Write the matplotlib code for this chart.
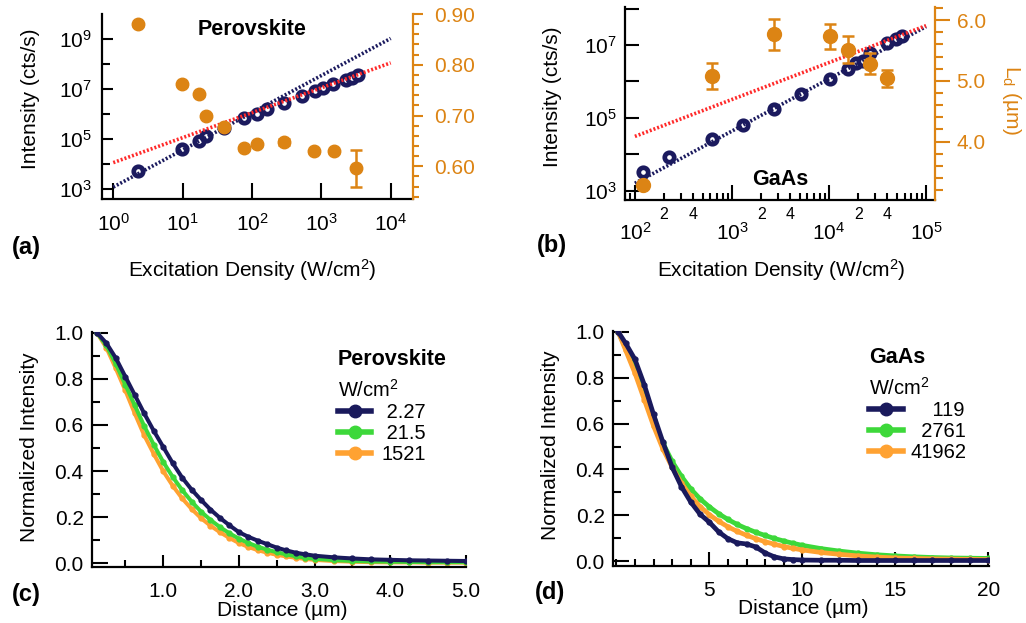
import numpy as np
import matplotlib
matplotlib.use("Agg")
import matplotlib.pyplot as plt
from matplotlib.lines import Line2D
from matplotlib.ticker import (FixedLocator, NullLocator, MultipleLocator, LogLocator,
                               FuncFormatter, FormatStrFormatter, NullFormatter)

plt.rcParams['font.family'] = ['Liberation Sans', 'DejaVu Sans']
plt.rcParams['mathtext.fontset'] = 'custom'
plt.rcParams['mathtext.rm'] = 'Liberation Sans'
plt.rcParams['mathtext.bf'] = 'Liberation Sans:bold'
plt.rcParams['mathtext.default'] = 'regular'

NAVY = '#1b1a5e'
ORANGE = '#dc8414'
RED = '#ff2a2a'
C_NAVY = '#1a1a5c'
C_GREEN = '#3dd83a'
C_ORANGE = '#ffa232'

# (a) perovskite: PL intensity and L_d vs excitation density (W/cm^2)
pero_power = [2.27, 9.8, 17, 21.5, 40, 77, 118, 163, 285, 525, 810, 1050, 1480, 2300, 2800, 3400]
pero_intensity = [5.2e3, 3.7e4, 7.8e4, 1.23e5, 2.6e5, 6.5e5, 1.0e6, 1.5e6, 2.6e6, 5.0e6,
                  7.9e6, 1.05e7, 1.6e7, 2.3e7, 2.8e7, 3.5e7]
pero_ld_power = [2.27, 9.8, 17, 21.5, 40, 77, 118, 285, 780, 1521, 3200]
pero_ld = [0.880, 0.762, 0.742, 0.700, 0.677, 0.636, 0.643, 0.647, 0.630, 0.630, 0.596]
pero_ld_err = [0.003, 0.003, 0.003, 0.003, 0.003, 0.003, 0.003, 0.006, 0.003, 0.003, 0.036]
pero_fit_x = [1, 1e4]
pero_fit_navy = [1.15e3, 1.05e9]
pero_fit_red = [1.1e4, 1.1e8]

# (b) GaAs
gaas_power = [120, 223, 624, 1290, 2700, 5200, 10200, 15600, 19000, 22600, 26700, 39600, 49000, 57000]
gaas_intensity = [3.2e3, 8.3e3, 2.6e4, 6.5e4, 1.8e5, 4.5e5, 1.17e6, 2.2e6, 3.2e6, 3.7e6,
                  6.0e6, 1.15e7, 1.5e7, 1.8e7]
gaas_ld_power = [120, 624, 2700, 10200, 15600, 26700, 39600]
gaas_ld = [3.29, 5.08, 5.77, 5.73, 5.51, 5.28, 5.04]
gaas_ld_err = [0.0, 0.21, 0.255, 0.21, 0.22, 0.17, 0.14]
gaas_fit_x = [1e2, 1e5]
gaas_fit_navy = [1.6e3, 3.2e7]
gaas_fit_red = [3.1e4, 3.4e7]

# (c) perovskite normalized PL profiles
pero_dist = [0.125, 0.25, 0.375, 0.5, 0.625, 0.75, 0.875, 1.0, 1.125, 1.25, 1.375, 1.5,
             1.625, 1.75, 1.875, 2.0, 2.125, 2.25, 2.375, 2.5, 2.625, 2.75, 2.875, 3.0,
             3.25, 3.5, 3.75, 4.0, 4.25, 4.5, 4.75, 5.0]
pero_prof_227 = [1.000, 0.955, 0.890, 0.810, 0.730, 0.650, 0.575, 0.505, 0.435, 0.372, 0.320, 0.275,
                 0.233, 0.197, 0.165, 0.135, 0.115, 0.098, 0.083, 0.068, 0.056, 0.046, 0.039, 0.033,
                 0.026, 0.021, 0.017, 0.015, 0.013, 0.012, 0.011, 0.010]
pero_prof_215 = [1.000, 0.945, 0.865, 0.775, 0.685, 0.595, 0.515, 0.440, 0.375, 0.318, 0.268, 0.224,
                 0.188, 0.157, 0.130, 0.107, 0.088, 0.072, 0.059, 0.048, 0.039, 0.031, 0.025, 0.020,
                 0.014, 0.010, 0.008, 0.007, 0.006, 0.005, 0.005, 0.005]
pero_prof_1521 = [1.000, 0.935, 0.845, 0.750, 0.650, 0.555, 0.475, 0.400, 0.337, 0.282, 0.236, 0.196,
                  0.163, 0.135, 0.110, 0.088, 0.071, 0.057, 0.046, 0.037, 0.030, 0.024, 0.019, 0.015,
                  0.010, 0.007, 0.005, 0.004, 0.004, 0.003, 0.003, 0.003]
pero_labels = ['\u20082.27', '\u200821.5', '1521']

# (d) GaAs normalized PL profiles
gaas_dist = [0.1, 0.5, 1.0, 1.5, 2.0, 2.5, 3.0, 3.5, 4.0, 4.5, 5.0, 5.5, 6.0, 6.5, 7.0, 7.5,
             8.0, 8.5, 9.0, 9.5, 10, 11, 12, 13, 14, 15, 16, 17, 18, 19, 20]
gaas_prof_119 = [1.0, 0.95, 0.88, 0.77, 0.64, 0.52, 0.41, 0.325, 0.258, 0.205, 0.170, 0.128, 0.098,
                 0.080, 0.075, 0.062, 0.036, 0.019, 0.010, 0.007, 0.005, 0.004, 0.004, 0.003, 0.003,
                 0.003, 0.003, 0.003, 0.003, 0.003, 0.003]
gaas_prof_2761 = [1.0, 0.93, 0.84, 0.73, 0.615, 0.515, 0.435, 0.37, 0.315, 0.272, 0.237, 0.207, 0.182,
                  0.160, 0.142, 0.126, 0.112, 0.099, 0.088, 0.078, 0.069, 0.055, 0.044, 0.035, 0.028,
                  0.023, 0.019, 0.016, 0.014, 0.013, 0.012]
gaas_prof_41962 = [1.0, 0.92, 0.82, 0.705, 0.59, 0.49, 0.41, 0.34, 0.283, 0.238, 0.203, 0.174, 0.150,
                   0.130, 0.113, 0.098, 0.085, 0.074, 0.064, 0.056, 0.049, 0.038, 0.030, 0.023, 0.018,
                   0.014, 0.012, 0.010, 0.009, 0.008, 0.007]
gaas_labels = ['\u2007\u2007119', '\u20072761', '41962']

W, H = 1026, 623
TICK = 15
LABEL = 15
DOTS = (0, (0.55, 0.55))

fig = plt.figure(figsize=(W / 100, H / 100), dpi=100)


def rect(l, t, r, b):
    return [l / W, 1 - b / H, (r - l) / W, (b - t) / H]


def put(x, y, s, **kw):
    return fig.text(x / W, 1 - y / H, s, **kw)


def pow10(v, pos):
    return r'$\mathdefault{10^{%d}}$' % int(round(np.log10(v)))


def mantissa(v, pos):
    m = int(round(v / 10 ** np.floor(np.log10(v) + 1e-9)))
    return str(m) if m in (2, 4) else ''


def host_style(ax):
    for s in ('top', 'right'):
        ax.spines[s].set_visible(False)
    for s in ('left', 'bottom'):
        ax.spines[s].set_linewidth(1.6)
    ax.tick_params(which='both', direction='in', width=1.5, labelsize=TICK, colors='black')


def twin_style(tw):
    for s in ('top', 'left', 'bottom'):
        tw.spines[s].set_visible(False)
    tw.spines['right'].set_color(ORANGE)
    tw.spines['right'].set_linewidth(1.6)
    tw.tick_params(axis='y', which='both', direction='out', width=1.5, colors=ORANGE,
                   labelsize=TICK)


# ---------- (a)
ax = fig.add_axes(rect(101.7, 14, 413.3, 199.3))
host_style(ax)
ax.plot(pero_power, pero_intensity, 'o', ms=6.8, mfc='white', mec=NAVY, mew=3.4, zorder=2)
ax.plot(pero_fit_x, pero_fit_navy, color=NAVY, lw=2.6, ls=DOTS, zorder=3)
ax.plot(pero_fit_x, pero_fit_red, color=RED, lw=2.6, ls=DOTS, zorder=3)
ax.set_xscale('log')
ax.set_yscale('log')
ax.set_xlim(10 ** -0.167, 10 ** 4.326)
ax.set_ylim(10 ** 2.57, 1e10)
ax.xaxis.set_major_locator(FixedLocator([1, 10, 100, 1e3, 1e4]))
ax.xaxis.set_minor_locator(NullLocator())
ax.xaxis.set_major_formatter(FuncFormatter(pow10))
ax.yaxis.set_major_locator(FixedLocator([1e3, 1e5, 1e7, 1e9]))
ax.yaxis.set_minor_locator(FixedLocator([1e4, 1e6, 1e8]))
ax.yaxis.set_major_formatter(FuncFormatter(pow10))
ax.yaxis.set_minor_formatter(NullFormatter())
ax.tick_params(axis='x', which='major', length=11.5, pad=10)
ax.tick_params(axis='y', which='major', length=8, pad=7)
ax.tick_params(axis='y', which='minor', length=6)

tw = ax.twinx()
twin_style(tw)
tw.errorbar(pero_ld_power, pero_ld, yerr=pero_ld_err, fmt='o', color=ORANGE, ms=9,
            capsize=4, elinewidth=1.8, capthick=1.8)
tw.set_ylim(0.535, 0.90)
tw.yaxis.set_major_locator(MultipleLocator(0.1))
tw.yaxis.set_minor_locator(MultipleLocator(0.02))
tw.yaxis.set_major_formatter(FormatStrFormatter('%.2f'))
tw.tick_params(axis='y', which='major', length=7, pad=8)
tw.tick_params(axis='y', which='minor', length=4)

put(30, 99, 'Intensity (cts/s)', rotation=90, ha='center', va='center', fontsize=LABEL)
put(252, 277, 'Excitation Density (W/cm$^{2}$)', ha='center', va='baseline', fontsize=LABEL)
put(252, 35, 'Perovskite', ha='center', va='baseline', fontsize=15.5, fontweight='bold')
put(12, 247, '(a)', ha='left', va='center', fontsize=17, fontweight='bold')

# ---------- (b)
ax = fig.add_axes(rect(625, 7.3, 935, 200))
host_style(ax)
ax.plot(gaas_power, gaas_intensity, 'o', ms=6.8, mfc='white', mec=NAVY, mew=3.4, zorder=2)
ax.plot(gaas_fit_x, gaas_fit_navy, color=NAVY, lw=2.6, ls=DOTS, zorder=3)
ax.plot(gaas_fit_x, gaas_fit_red, color=RED, lw=2.6, ls=DOTS, zorder=3)
ax.set_xscale('log')
ax.set_yscale('log')
ax.set_xlim(10 ** 1.898, 10 ** 5.092)
ax.set_ylim(10 ** 2.745, 10 ** 8.035)
ax.xaxis.set_major_locator(FixedLocator([1e2, 1e3, 1e4, 1e5]))
ax.xaxis.set_minor_locator(LogLocator(base=10, subs=range(2, 10), numticks=20))
ax.xaxis.set_major_formatter(FuncFormatter(pow10))
ax.xaxis.set_minor_formatter(FuncFormatter(mantissa))
ax.yaxis.set_major_locator(FixedLocator([1e3, 1e5, 1e7]))
ax.yaxis.set_minor_locator(FixedLocator([1e4, 1e6, 1e8]))
ax.yaxis.set_major_formatter(FuncFormatter(pow10))
ax.yaxis.set_minor_formatter(NullFormatter())
ax.tick_params(axis='x', which='major', length=10.5, pad=16)
ax.tick_params(axis='x', which='minor', length=5, pad=5, labelsize=11.5)
ax.tick_params(axis='y', which='both', length=10, pad=6)

tw = ax.twinx()
twin_style(tw)
tw.errorbar(gaas_ld_power, gaas_ld, yerr=gaas_ld_err, fmt='o', color=ORANGE, ms=10,
            capsize=4.5, elinewidth=1.8, capthick=1.8)
tw.set_ylim(3.04, 6.21)
tw.yaxis.set_major_locator(MultipleLocator(1.0))
tw.yaxis.set_minor_locator(MultipleLocator(0.2))
tw.yaxis.set_major_formatter(FormatStrFormatter('%.1f'))
tw.tick_params(axis='y', which='major', length=10.5, pad=5)
tw.tick_params(axis='y', which='minor', length=5.5)

put(552, 97, 'Intensity (cts/s)', rotation=90, ha='center', va='center', fontsize=LABEL)
put(781, 277, 'Excitation Density (W/cm$^{2}$)', ha='center', va='baseline', fontsize=LABEL)
put(1012, 100, r'L$_{d}$ (µm)', rotation=270, ha='center', va='center', fontsize=LABEL,
    color=ORANGE)
put(780, 185, 'GaAs', ha='center', va='baseline', fontsize=15.5, fontweight='bold')
put(537, 246, '(b)', ha='left', va='center', fontsize=17, fontweight='bold')


def profile_axes(r, xlim, ylim):
    ax = fig.add_axes(r)
    host_style(ax)
    ax.set_xlim(*xlim)
    ax.set_ylim(*ylim)
    ax.yaxis.set_major_locator(MultipleLocator(0.2))
    ax.yaxis.set_minor_locator(MultipleLocator(0.1))
    ax.yaxis.set_major_formatter(FormatStrFormatter('%.1f'))
    ax.tick_params(axis='y', which='major', length=11.5, pad=6)
    ax.tick_params(axis='y', which='minor', length=6)
    return ax


def key(ax, colors, labels, x, y, hlen, tpad):
    handles = [Line2D([], [], color=c, lw=4, marker='o', ms=9) for c in colors]
    ax.legend(handles, labels, title='W/cm$^{2}$', alignment='left', loc='upper left',
              bbox_to_anchor=(x / W, 1 - y / H), bbox_transform=fig.transFigure,
              frameon=False, fontsize=14.5, title_fontsize=14.5, handlelength=hlen,
              handletextpad=tpad, labelspacing=0.1, borderpad=0, borderaxespad=0)


# ---------- (c)
ax = profile_axes(rect(92, 331.6, 466, 567), (0.06, 5.0), (-0.016, 1.005))
ax.plot(pero_dist, pero_prof_1521, '-o', color=C_ORANGE, lw=2.9, ms=3.5)
ax.plot(pero_dist, pero_prof_215, '-o', color=C_GREEN, lw=2.9, ms=3.5)
ax.plot(pero_dist, pero_prof_227, '-o', color=C_NAVY, lw=2.9, ms=3.5)
ax.xaxis.set_major_locator(MultipleLocator(1.0))
ax.xaxis.set_minor_locator(MultipleLocator(0.5))
ax.xaxis.set_major_formatter(FormatStrFormatter('%.1f'))
ax.tick_params(axis='x', which='major', length=8.5, pad=11)
ax.tick_params(axis='x', which='minor', length=5)
key(ax, [C_NAVY, C_GREEN, C_ORANGE], pero_labels, 338, 379, 1.65, 0.5)

put(30, 447, 'Normalized Intensity', rotation=90, ha='center', va='center', fontsize=LABEL)
put(282, 616, 'Distance (µm)', ha='center', va='baseline', fontsize=LABEL)
put(338, 365, 'Perovskite', ha='left', va='baseline', fontsize=15.5, fontweight='bold')
put(12, 595, '(c)', ha='left', va='center', fontsize=17, fontweight='bold')

# ---------- (d)
ax = profile_axes(rect(613, 330.7, 989, 566), (-0.18, 20.04), (-0.021, 1.005))
ax.plot(gaas_dist, gaas_prof_2761, '-o', color=C_GREEN, lw=3.4, ms=3.5)
ax.plot(gaas_dist, gaas_prof_41962, '-o', color=C_ORANGE, lw=3.4, ms=3.5)
ax.plot(gaas_dist, gaas_prof_119, '-o', color=C_NAVY, lw=3.4, ms=3.5)
ax.xaxis.set_major_locator(FixedLocator([5, 10, 15, 20]))
ax.xaxis.set_minor_locator(MultipleLocator(1))
ax.xaxis.set_major_formatter(FormatStrFormatter('%d'))
ax.tick_params(axis='x', which='major', length=10, pad=10.5)
ax.tick_params(axis='x', which='minor', length=5)
key(ax, [C_NAVY, C_GREEN, C_ORANGE], gaas_labels, 869, 377, 1.7, 0.35)

put(550, 445, 'Normalized Intensity', rotation=90, ha='center', va='center', fontsize=LABEL)
put(803, 614, 'Distance (µm)', ha='center', va='baseline', fontsize=LABEL)
put(869, 363, 'GaAs', ha='left', va='baseline', fontsize=15.5, fontweight='bold')
put(535, 593, '(d)', ha='left', va='center', fontsize=17, fontweight='bold')

fig.savefig('out.png', dpi=100)
